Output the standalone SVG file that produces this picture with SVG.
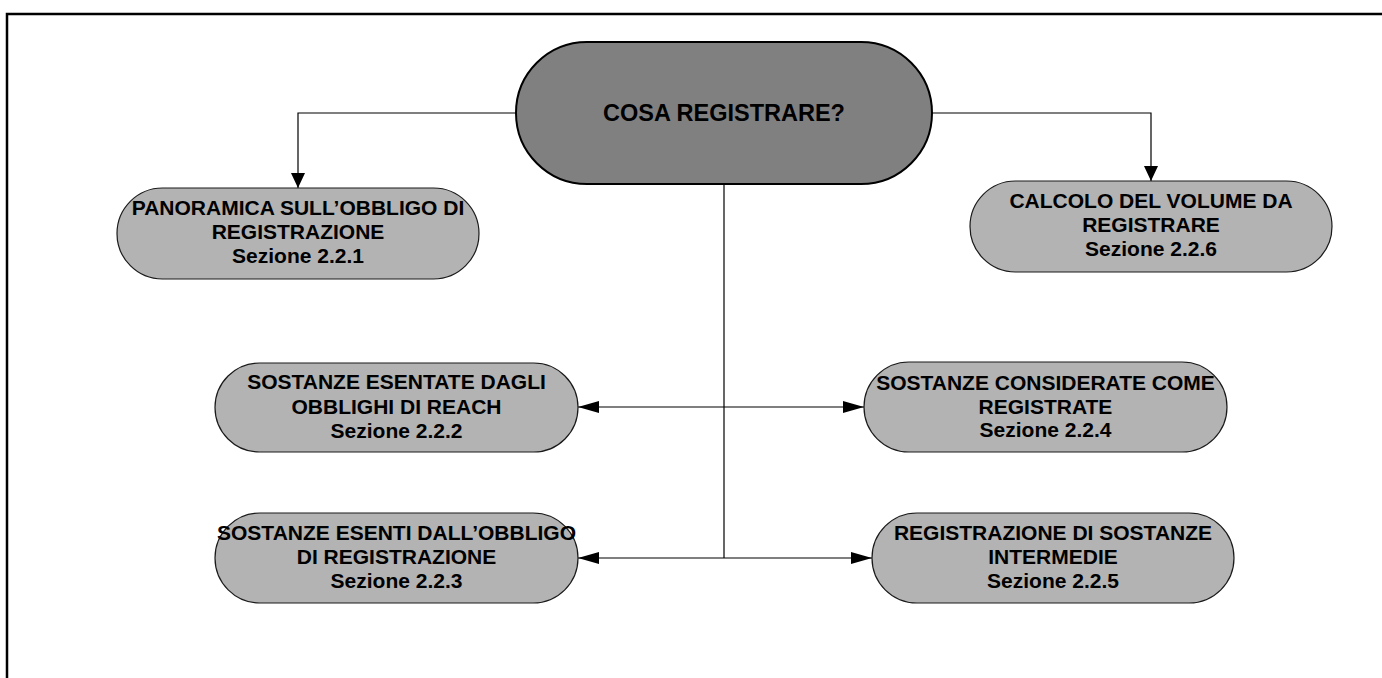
<svg xmlns="http://www.w3.org/2000/svg" width="1382" height="678" viewBox="0 0 1382 678">
<style>
.t{font-family:"Liberation Sans",Arial,sans-serif;font-weight:bold;fill:#000;text-anchor:middle}
.s{font-size:21px}
.m{font-size:23.5px}
.node{fill:#b3b3b3;stroke:#1a1a1a;stroke-width:1.2}
.main{fill:#808080;stroke:#000;stroke-width:2}
.c{fill:none;stroke:#000;stroke-width:1.2}
.frame{fill:none;stroke:#000;stroke-width:2.5}
</style>
<defs>
<marker id="av" markerUnits="userSpaceOnUse" markerWidth="16" markerHeight="14" refX="15" refY="7" orient="auto">
<path d="M0,0 L15,7 L0,14 Z" fill="#000"/>
</marker>
<marker id="ah" markerUnits="userSpaceOnUse" markerWidth="22" markerHeight="12" refX="21" refY="6" orient="auto">
<path d="M0,0 L21,6 L0,12 Z" fill="#000"/>
</marker>
</defs>
<rect width="1382" height="678" fill="#fff"/>
<path class="frame" d="M7,678 L7,14 L1382,14"/>
<g id="connectors">
<path class="c" d="M516,113 L298,113 L298,188" marker-end="url(#av)"/>
<path class="c" d="M932,113 L1151,113 L1151,181" marker-end="url(#av)"/>
<path class="c" d="M724,184 L724,558"/>
<path class="c" d="M724,407 L578,407" marker-end="url(#ah)"/>
<path class="c" d="M724,407 L864,407" marker-end="url(#ah)"/>
<path class="c" d="M724,558 L578,558" marker-end="url(#ah)"/>
<path class="c" d="M724,558 L872,558" marker-end="url(#ah)"/>
</g>
<g id="main">
<rect class="main" x="516" y="42" width="416" height="142" rx="71" ry="71"/>
<text class="t m" x="724" y="121">COSA REGISTRARE?</text>
</g>
<g id="n221">
<rect class="node" x="117" y="188" width="362" height="91" rx="45.5" ry="45.5"/>
<text class="t s" x="298" y="215">PANORAMICA SULL’OBBLIGO DI</text>
<text class="t s" x="298" y="239">REGISTRAZIONE</text>
<text class="t s" x="298" y="263">Sezione 2.2.1</text>
</g>
<g id="n226">
<rect class="node" x="970" y="181" width="362" height="91" rx="45.5" ry="45.5"/>
<text class="t s" x="1151" y="208">CALCOLO DEL VOLUME DA</text>
<text class="t s" x="1151" y="232">REGISTRARE</text>
<text class="t s" x="1151" y="256">Sezione 2.2.6</text>
</g>
<g id="n222">
<rect class="node" x="215" y="363" width="363" height="89" rx="44.5" ry="44.5"/>
<text class="t s" x="396.5" y="389">SOSTANZE ESENTATE DAGLI</text>
<text class="t s" x="396.5" y="414">OBBLIGHI DI REACH</text>
<text class="t s" x="396.5" y="438">Sezione 2.2.2</text>
</g>
<g id="n224">
<rect class="node" x="864" y="362" width="363" height="90" rx="45" ry="45"/>
<text class="t s" x="1045.5" y="390">SOSTANZE CONSIDERATE COME</text>
<text class="t s" x="1045.5" y="414">REGISTRATE</text>
<text class="t s" x="1045.5" y="437">Sezione 2.2.4</text>
</g>
<g id="n223">
<rect class="node" x="215" y="513" width="363" height="90" rx="45" ry="45"/>
<text class="t s" x="396.5" y="540">SOSTANZE ESENTI DALL’OBBLIGO</text>
<text class="t s" x="396.5" y="564">DI REGISTRAZIONE</text>
<text class="t s" x="396.5" y="588">Sezione 2.2.3</text>
</g>
<g id="n225">
<rect class="node" x="872" y="513" width="362" height="90" rx="45" ry="45"/>
<text class="t s" x="1053" y="540">REGISTRAZIONE DI SOSTANZE</text>
<text class="t s" x="1053" y="564">INTERMEDIE</text>
<text class="t s" x="1053" y="588">Sezione 2.2.5</text>
</g>
</svg>
